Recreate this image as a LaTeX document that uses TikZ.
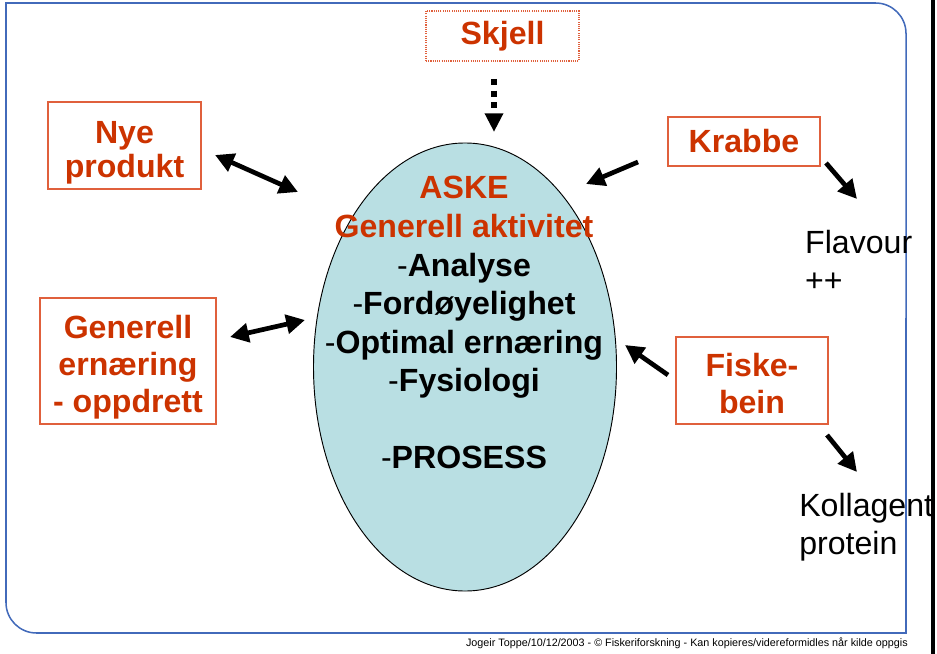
\documentclass[tikz,border=0pt]{standalone}
\usepackage{fontspec}
\setmainfont{Liberation Sans}
\usetikzlibrary{arrows.meta,shapes.geometric}

\definecolor{askered}{RGB}{204,51,0}
\definecolor{boxred}{RGB}{224,96,60}
\definecolor{askefill}{RGB}{185,223,227}
\definecolor{frameblue}{RGB}{66,106,186}
\newcommand{\bigbold}{\fontsize{27.4}{31.5}\selectfont\bfseries}
\newcommand{\bigplain}{\fontsize{27.4}{32.5}\selectfont}

\begin{document}
\begin{tikzpicture}[x=0.03cm, y=-0.03cm,
	frame/.style={frameblue, line width=1.3pt},
	redbox/.style={draw=boxred, line width=0.9pt, text=askered, font=\bigbold, align=center, inner sep=0pt},
	fat/.style={line width=\arrw pt, -{Triangle[length=16pt,width=16pt]}},
	fatboth/.style={line width=\arrw pt, {Triangle[length=16pt,width=16pt]}-{Triangle[length=16pt,width=16pt]}},
]
\pgfmathsetmacro{\arrw}{4}
\pgfmathsetmacro{\rowh}{38.5}

\useasboundingbox (0,0) rectangle (937,654);

% slide frame
\draw[frame] (6,318) -- (6,3) -- (456,3);
\draw[frame, rounded corners=26pt] (456,3) -- (906,3) -- (906,318);
\draw[frame] (906,318) -- (906,633) -- (456,633);
\draw[frame, rounded corners=26pt] (456,633) -- (6,633) -- (6,318);
\fill[black] (931,0) rectangle (935,654);

% centre
\node[ellipse, draw, line width=0.8pt, fill=askefill, minimum width=9.09cm, minimum height=13.44cm, inner sep=0pt] (aske) at (465,367) {};
\node[anchor=base, text=askered, font=\bigbold] (askeTitle) at (464,199) {ASKE};
\node[anchor=base, text=askered, font=\bigbold] (askeSub) at (464,237.5) {Generell aktivitet};
\foreach \t [count=\j] in {Analyse, Fordøyelighet, Optimal ernæring, Fysiologi}{
	\node[anchor=base, font=\bigplain] (item\j) at (464, 237.5 + \j*\rowh) {-\textbf{\t}};
}
\node[anchor=base, font=\bigplain] (prosess) at (464, 237.5 + 6*\rowh) {-\textbf{PROSESS}};

% boxes
\node[redbox, draw=boxred, densely dotted, minimum width=4.59cm, minimum height=1.5cm] (skjell) at (502.5,36) {Skjell};
\node[redbox, minimum width=4.59cm, minimum height=2.61cm] (nye) at (124.5,145.5) {\rule{0pt}{31pt}Nye\\[-2pt]produkt};
\node[redbox, minimum width=5.28cm, minimum height=3.78cm] (ernaering) at (128,361) {\rule{0pt}{31pt}Generell\\ernæring\\- oppdrett};
\node[redbox, minimum width=4.56cm, minimum height=1.47cm] (krabbe) at (744,141.5) {Krabbe};
\node[redbox, minimum width=4.56cm, minimum height=2.61cm] (fiskebein) at (752,380.5) {\rule{0pt}{25pt}Fiske-\\bein};

\node[anchor=north west, align=left, inner sep=0pt, font=\bigplain] (flavour) at (805,230) {Flavour\\++};
\node[anchor=north west, align=left, inner sep=0pt, font=\bigplain] (kollagen) at (799,493) {Kollagent\\protein};

% arrow ends
\coordinate (skjellTail) at (494,79);
\coordinate (skjellHead) at (494,132);
\coordinate (nyeEnd) at (215,155);
\coordinate (nyeAske) at (298,192);
\coordinate (ernEnd) at (230,337);
\coordinate (ernAske) at (305,320);
\coordinate (krabbeTail) at (638,162);
\coordinate (krabbeAske) at (586,184);
\coordinate (krabbeOut) at (826,163);
\coordinate (flavourIn) at (857,199);
\coordinate (fiskeTail) at (668,375);
\coordinate (fiskeAske) at (625,345);
\coordinate (fiskeOut) at (827,435);
\coordinate (kollagenIn) at (857,472);

\draw[line width=5pt, dash pattern=on 5pt off 5pt, -{Triangle[length=16pt,width=15pt]}] (skjellTail) -- (skjellHead);
\draw[fatboth] (nyeEnd) -- (nyeAske);
\draw[fatboth] (ernEnd) -- (ernAske);
\draw[fat] (krabbeTail) -- (krabbeAske);
\draw[fat] (krabbeOut) -- (flavourIn);
\draw[fat] (fiskeTail) -- (fiskeAske);
\draw[fat] (fiskeOut) -- (kollagenIn);

\node[anchor=base east, inner sep=0pt, font=\fontsize{9.2}{11}\selectfont] (footer) at (908,646) {Jogeir Toppe/10/12/2003 - © Fiskeriforskning - Kan kopieres/videreformidles når kilde oppgis};

\end{tikzpicture}
\end{document}
